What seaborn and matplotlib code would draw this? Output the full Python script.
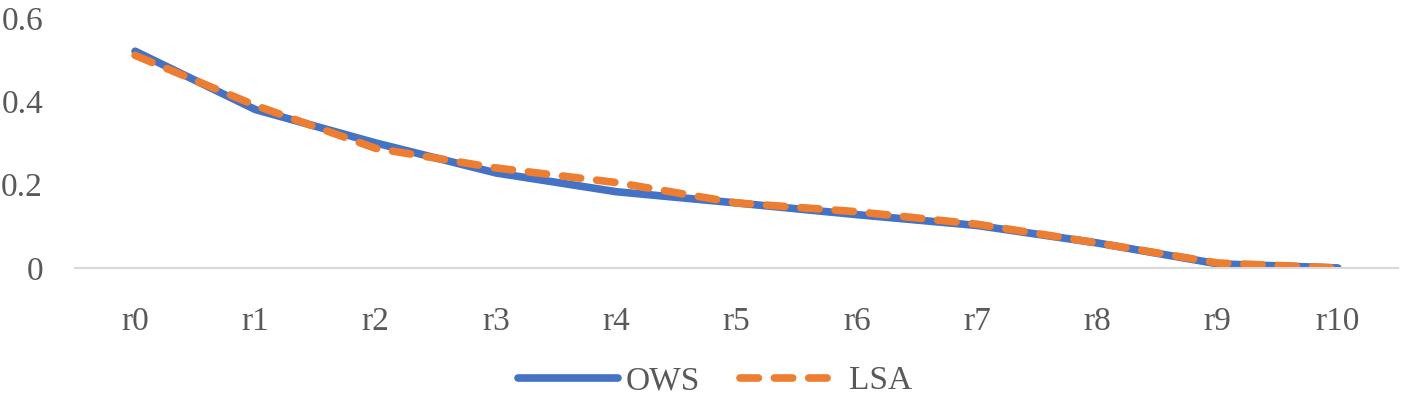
import matplotlib
matplotlib.use("Agg")
import matplotlib.pyplot as plt
import seaborn as sns
import pandas as pd
from matplotlib.lines import Line2D

categories = ["r0", "r1", "r2", "r3", "r4", "r5", "r6", "r7", "r8", "r9", "r10"]
ows = [0.52, 0.38, 0.30, 0.228, 0.183, 0.156, 0.128, 0.102, 0.06, 0.01, 0.0]
lsa = [0.51, 0.39, 0.287, 0.24, 0.205, 0.156, 0.135, 0.105, 0.06, 0.012, 0.0]
yticks = [0, 0.2, 0.4, 0.6]
ytick_labels = ["0", "0.2", "0.4", "0.6"]

sns.set_theme(style="white")
plt.rcParams["font.family"] = ["Liberation Serif", "DejaVu Serif"]

df = pd.DataFrame({
    "x": list(range(len(categories))) * 2,
    "value": ows + lsa,
    "series": ["OWS"] * len(ows) + ["LSA"] * len(lsa),
})

fig = plt.figure(figsize=(14.04, 3.97), dpi=100)
ax = fig.add_axes([0.0534, 0.325, 0.9423, 0.63])

blue = "#4472C4"
orange = "#ED7D31"
lw = 5.5
sns.lineplot(data=df, x="x", y="value", hue="series", style="series",
             palette={"OWS": blue, "LSA": orange},
             dashes={"OWS": "", "LSA": (2.4, 2.1)},
             linewidth=lw, ax=ax, legend=False)
for ln in ax.get_lines():
    ln.set_solid_capstyle("round")
    ln.set_dash_capstyle("round")
    ln.set_solid_joinstyle("round")

ax.set_xlim(-0.5, len(categories) - 0.5)
ax.set_ylim(0, 0.6)
ax.set_xticks(range(len(categories)))
ax.set_xticklabels(categories)
ax.set_yticks(yticks)
ax.set_yticklabels(ytick_labels)
ax.set_xlabel("")
ax.set_ylabel("")
for s in ["top", "right", "left"]:
    ax.spines[s].set_visible(False)
ax.spines["bottom"].set_color("#D9D9D9")
ax.spines["bottom"].set_linewidth(1.5)
ax.tick_params(axis="both", length=0, labelsize=24, colors="#595959")
ax.tick_params(axis="x", pad=28)
ax.tick_params(axis="y", pad=23)

handles = [
    Line2D([0], [0], color=blue, lw=lw, solid_capstyle="round"),
    Line2D([0], [0], color=orange, lw=lw, ls=(0, (2.4, 2.1)), dash_capstyle="round"),
]
fig.legend(handles, ["OWS", "LSA"], loc="center", bbox_to_anchor=(0.509, 0.04),
           ncol=2, frameon=False, fontsize=24, labelcolor="#595959",
           handlelength=3.0, handletextpad=0.25, columnspacing=1.2)

fig.savefig("out.png", dpi=100)
